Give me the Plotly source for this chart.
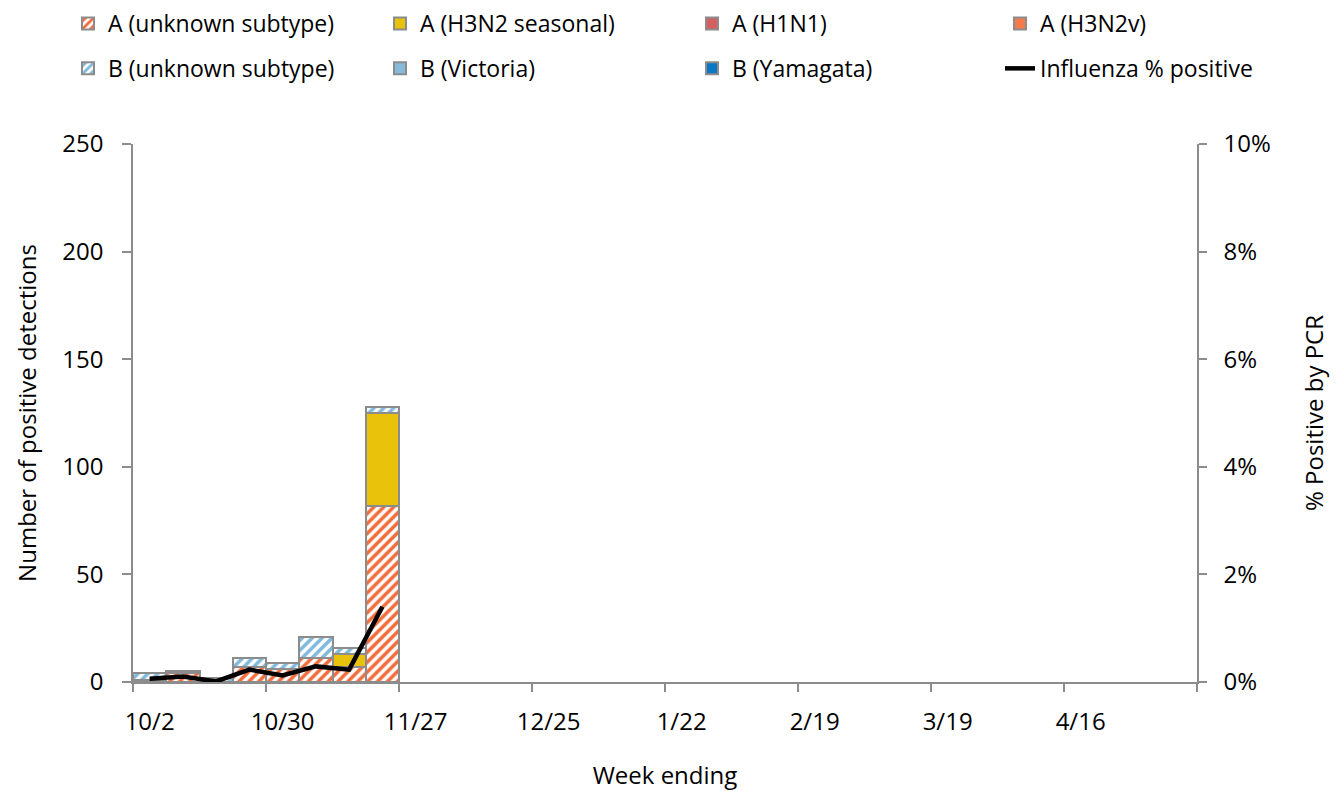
import plotly.graph_objects as go

weeks = ["10/2", "10/9", "10/16", "10/23", "10/30", "11/6", "11/13", "11/20",
         "11/27", "12/4", "12/11", "12/18", "12/25", "1/1", "1/8", "1/15",
         "1/22", "1/29", "2/5", "2/12", "2/19", "2/26", "3/5", "3/12",
         "3/19", "3/26", "4/2", "4/9", "4/16", "4/23", "4/30", "5/7"]

a_unknown = [1, 4, 0, 7, 6, 11, 7, 82]
a_h3n2_seasonal = [0, 0, 0, 0, 0, 0, 6, 43]
a_h1n1 = [0, 0, 0, 0, 0, 0, 0, 0]
a_h3n2v = [0, 0, 0, 0, 0, 0, 0, 0]
b_unknown = [3, 1, 2, 4, 3, 10, 3, 3]
b_victoria = [0, 0, 0, 0, 0, 0, 0, 0]
b_yamagata = [0, 0, 0, 0, 0, 0, 0, 0]
pct_positive = [0.0006, 0.0010, 0.0001, 0.0023, 0.0012, 0.0029, 0.0023, 0.0140]

FONT = "Open Sans"
GRAY = "#8C8C8C"
xs = list(range(len(a_unknown)))


def nz(vals):
    return [v if v else None for v in vals]


fig = go.Figure()

series = [
    ("A (unknown subtype)", a_unknown, "#F26B3A", "/", "legend"),
    ("A (H3N2 seasonal)", a_h3n2_seasonal, "#E9C20B", "", "legend2"),
    ("A (H1N1)", a_h1n1, "#D65F5F", "", "legend3"),
    ("A (H3N2v)", a_h3n2v, "#F47A4A", "", "legend4"),
    ("B (unknown subtype)", b_unknown, "#7FB9DC", "/", "legend"),
    ("B (Victoria)", b_victoria, "#86BDDB", "", "legend2"),
    ("B (Yamagata)", b_yamagata, "#0B77C5", "", "legend3"),
]

for name, vals, color, shape, leg in series:
    if shape:
        marker = dict(color="white",
                      pattern=dict(shape=shape, fgcolor=color, bgcolor="white",
                                   fgopacity=1, size=7, solidity=0.5,
                                   fillmode="overlay"),
                      line=dict(color=GRAY, width=2))
    else:
        marker = dict(color=color, line=dict(color=GRAY, width=2))
    fig.add_trace(go.Bar(x=xs, y=nz(vals), name=name, marker=marker,
                         legend=leg, legendgroup=name, yaxis="y"))

fig.add_trace(go.Scatter(x=xs, y=pct_positive, name="Influenza % positive",
                         mode="lines", line=dict(color="black", width=4.5),
                         legend="legend4", legendgroup="line", yaxis="y2"))

# plot area in pixels: x 133..1197, y 144..682
W, H = 1336, 791
L, R, T, B = 133, 1197, 144, 682
pw, ph = R - L, B - T


def px(xp):
    return (xp - L) / pw


def py(yp):
    return (B - yp) / ph


leg_common = dict(orientation="v", xanchor="left", yanchor="top",
                  font=dict(family=FONT, size=23, color="black"),
                  tracegroupgap=12, bgcolor="rgba(0,0,0,0)", itemwidth=30)

fig.update_layout(
    width=W, height=H,
    margin=dict(l=L, r=W - R, t=T, b=H - B, autoexpand=False),
    paper_bgcolor="white", plot_bgcolor="white",
    barmode="stack", bargap=0,
    font=dict(family=FONT, size=24, color="black"),
    legend=dict(x=px(68), y=py(2), **leg_common),
    legend2=dict(x=px(380), y=py(2), **leg_common),
    legend3=dict(x=px(692), y=py(2), **leg_common),
    legend4=dict(x=px(1000), y=py(2), **leg_common),
    xaxis=dict(
        range=[-0.5, len(weeks) - 0.5],
        tickmode="array",
        tickvals=list(range(0, len(weeks), 4)),
        ticktext=weeks[::4],
        ticks="", showgrid=False, zeroline=False,
        showline=True, linecolor=GRAY, linewidth=1.5,
        ticklabelstandoff=17, automargin=False,
        minor=dict(tickmode="array",
                   tickvals=[i - 0.5 for i in range(0, len(weeks) + 1, 4)],
                   ticks="outside", ticklen=8, tickcolor=GRAY, tickwidth=1.5,
                   showgrid=False),
        tickfont=dict(family=FONT, size=24),
        title=dict(text="Week ending", font=dict(family=FONT, size=24), standoff=33),
    ),
    yaxis=dict(
        range=[0, 250], dtick=50, tickmode="linear",
        ticks="outside", ticklen=9, tickcolor=GRAY, tickwidth=1.5,
        showline=True, linecolor=GRAY, linewidth=1.5,
        showgrid=False, zeroline=False, automargin=False,
        ticklabelstandoff=14,
        tickfont=dict(family=FONT, size=24),
        title=dict(text="Number of positive detections",
                   font=dict(family=FONT, size=24), standoff=19),
    ),
    yaxis2=dict(
        range=[0, 0.1], dtick=0.02, tickmode="linear", tickformat=".0%",
        overlaying="y", side="right",
        ticks="outside", ticklen=8, tickcolor=GRAY, tickwidth=1.5,
        showline=True, linecolor=GRAY, linewidth=1.5,
        showgrid=False, zeroline=False, automargin=False,
        ticklabelstandoff=12,
        tickfont=dict(family=FONT, size=24),
        title=dict(text="% Positive by PCR",
                   font=dict(family=FONT, size=24), standoff=36),
    ),
)

fig.write_html("out.html",
               config={"displayModeBar": False},
               post_script="document.body.style.margin='0';"
                           "document.body.style.overflow='hidden';")
